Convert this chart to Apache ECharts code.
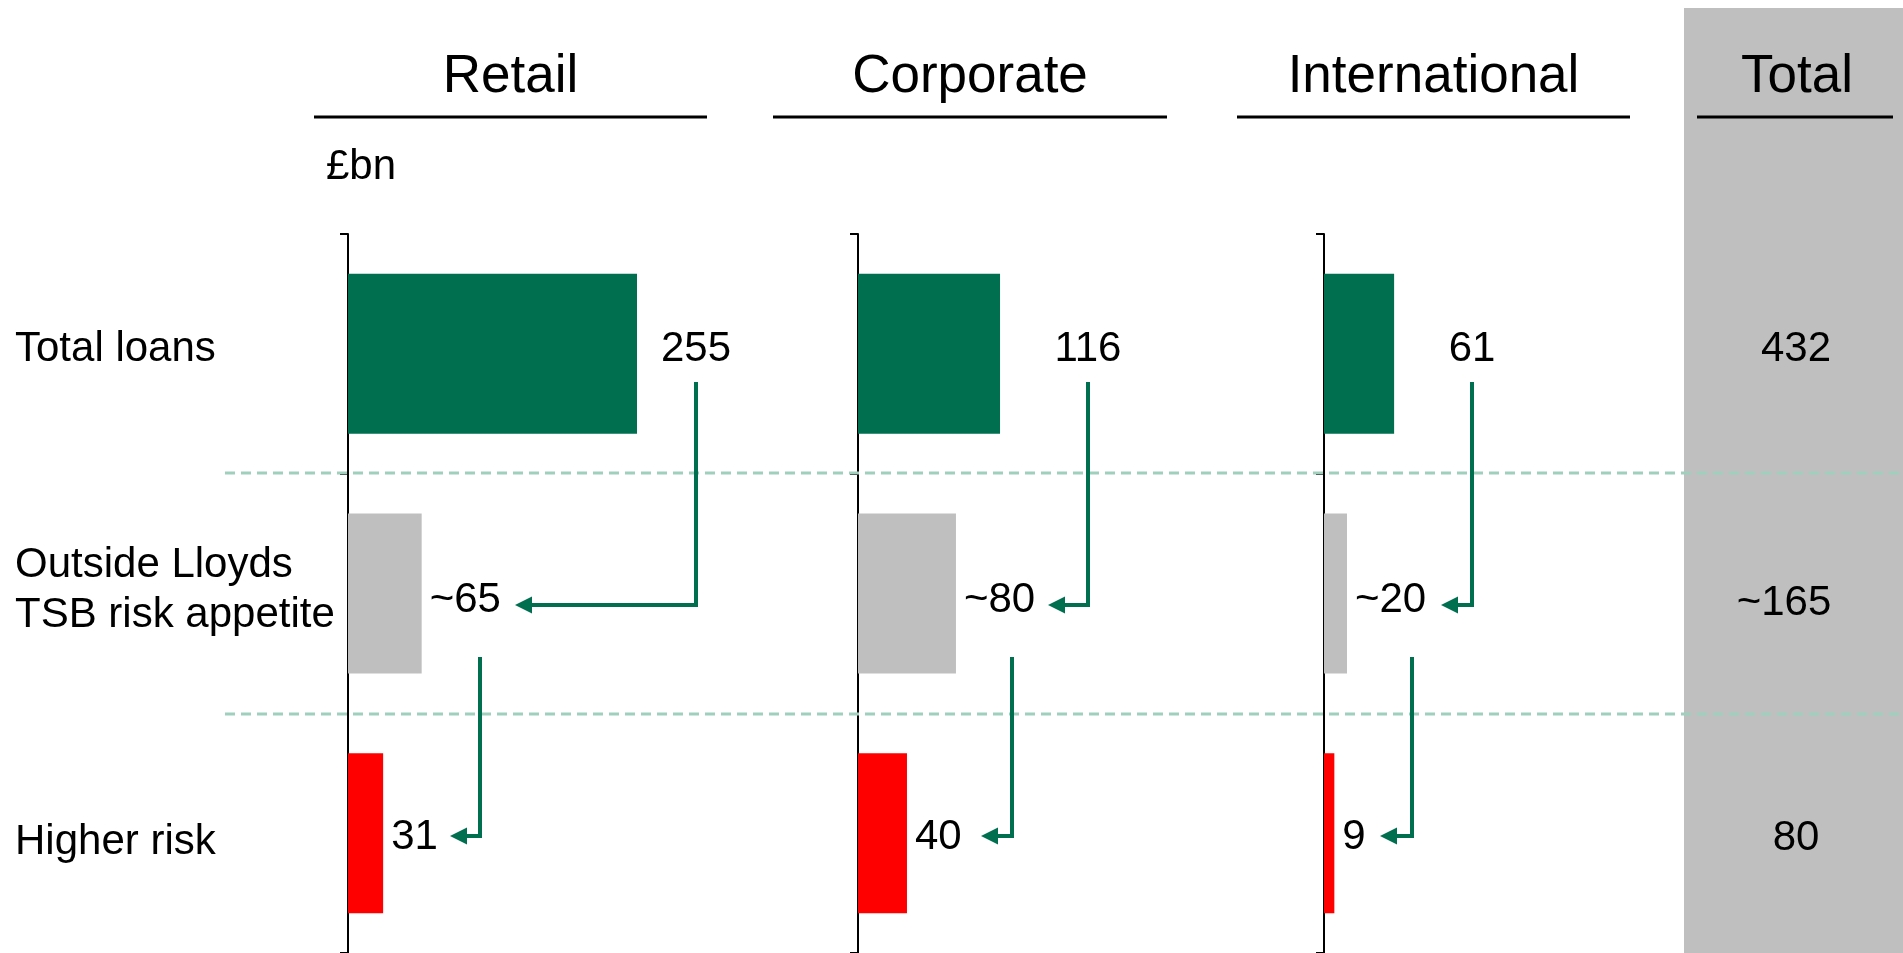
<!DOCTYPE html>
<html>
<head>
<meta charset="utf-8">
<title>Loans by division</title>
<script src="https://cdn.jsdelivr.net/npm/echarts@6/dist/echarts.min.js"></script>
<style>
  html, body { margin: 0; padding: 0; background: #fff; }
  #chart { width: 1903px; height: 953px; }
</style>
</head>
<body>
<div id="chart"></div>
<script>
// ---- data (£bn) ----
const categories = ['Total loans', 'Outside Lloyds\nTSB risk appetite', 'Higher risk'];
const divisions = ['Retail', 'Corporate', 'International'];
const retailValues = [255, 65, 31];
const corporateValues = [116, 80, 40];
const internationalValues = [61, 20, 9];
const approximate = [false, true, false];
const totalTitle = 'Total';
const unitLabel = '£bn';

// ---- styling / layout ----
const FONT = "'Liberation Sans', Arial, Helvetica, sans-serif";
const BODY = 42, HEAD = 53;
const GREEN = '#006F4F';
const barColors = [GREEN, '#BFBFBF', '#FF0000'];
const GRID_TOP = 234, GRID_HEIGHT = 720;
const labelNudge = [0, 7, 4];          // vertical nudge of value labels per row

const panels = [
  { name: divisions[0], values: retailValues, left: 348, width: 340, max: 300,
    head: [314, 707], arrow1: [696, 515], arrow2: [480, 450] },
  { name: divisions[1], values: corporateValues, left: 858, width: 300, max: 245,
    head: [773, 1167], arrow1: [1088, 1048], arrow2: [1012, 981] },
  { name: divisions[2], values: internationalValues, left: 1324, width: 300, max: 261,
    head: [1237, 1630], arrow1: [1472, 1441], arrow2: [1412, 1380] }
];
const totals = categories.map((_, k) => panels.reduce((s, p) => s + p.values[k], 0));

const fmt = (v, k) => (approximate[k] ? '~' : '') + v;

const chart = echarts.init(document.getElementById('chart'), null, { renderer: 'canvas' });

const grids = panels.map(p => ({ left: p.left, top: GRID_TOP, width: p.width, height: GRID_HEIGHT }));
const xAxes = panels.map((p, i) => ({ type: 'value', gridIndex: i, min: 0, max: p.max, show: false }));
const yAxes = panels.map((p, i) => ({
  type: 'category', gridIndex: i, data: categories, inverse: true,
  axisLine: { show: true, lineStyle: { color: '#000', width: 2 } },
  axisTick: { show: true, length: 8, lineStyle: { color: '#000', width: 2 } },
  splitLine: { show: false },
  axisLabel: i === 0 ? {
    show: true, interval: 0, margin: 333, align: 'left',
    formatter: (value, idx) => '{r' + idx + '|' + value + '}',
    rich: {
      r0: { fontSize: BODY, lineHeight: 50, color: '#000', fontFamily: FONT, padding: [0, 0, 8, 0] },
      r1: { fontSize: BODY, lineHeight: 50, color: '#000', fontFamily: FONT, padding: [0, 0, 7, 0] },
      r2: { fontSize: BODY, lineHeight: 50, color: '#000', fontFamily: FONT, padding: [18, 0, 0, 0] }
    }
  } : { show: false }
}));

const series = panels.map((p, i) => ({
  type: 'bar', xAxisIndex: i, yAxisIndex: i, barWidth: 160, silent: true,
  data: p.values.map((v, k) => {
    const item = { value: v, itemStyle: { color: barColors[k] } };
    if (k === 0) {
      // the loan total sits above its connector arrow
      item.label = { position: [p.arrow1[0] - p.left, '47%'], align: 'center', verticalAlign: 'middle' };
    } else {
      item.label = { offset: [0, labelNudge[k]] };
    }
    return item;
  }),
  label: {
    show: true, position: 'right', distance: 8, fontSize: BODY, color: '#000', fontFamily: FONT,
    verticalAlign: 'middle',
    formatter: d => fmt(d.value, d.dataIndex)
  }
}));

// ---- decorations ----
const graphics = [];
// shaded total column
graphics.push({ type: 'rect', z: 0, shape: { x: 1684, y: 8, width: 219, height: 945 }, style: { fill: '#BFBFBF' } });

function text(str, x, y, size, align) {
  return { type: 'text', z: 20, x, y, style: {
    text: str, fontSize: size, fontFamily: FONT, fill: '#000',
    align: align || 'center', verticalAlign: 'middle',
    textAlign: align || 'center', textVerticalAlign: 'middle'
  } };
}
function hline(x1, x2, y, width, color, dash) {
  return { type: 'line', z: 15, shape: { x1, y1: y, x2, y2: y },
    style: { stroke: color, lineWidth: width, lineDash: dash || null } };
}

// column headings with rules
panels.forEach(p => {
  graphics.push(text(p.name, (p.head[0] + p.head[1]) / 2, 77, HEAD));
  graphics.push(hline(p.head[0], p.head[1], 117, 3, '#000'));
});
graphics.push(text(totalTitle, 1797, 77, HEAD));
graphics.push(hline(1697, 1893, 117, 3, '#000'));
graphics.push(text(unitLabel, 326, 167, BODY, 'left'));

// row separators
graphics.push(hline(225, 1903, 473, 3, '#9FCFBD', [10, 6]));
graphics.push(hline(225, 1903, 714, 3, '#9FCFBD', [10, 6]));

// connector arrows
function arrow(vx, yTop, yBot, tipX) {
  const head = 17;
  graphics.push({ type: 'polyline', z: 18, shape: { points: [[vx, yTop], [vx, yBot], [tipX + head - 2, yBot]] },
    style: { stroke: GREEN, lineWidth: 4, fill: null } });
  graphics.push({ type: 'polygon', z: 18, shape: { points: [[tipX, yBot], [tipX + head, yBot - 8.5], [tipX + head, yBot + 8.5]] },
    style: { fill: GREEN } });
}
panels.forEach(p => {
  arrow(p.arrow1[0], 382, 605, p.arrow1[1]);
  arrow(p.arrow2[0], 657, 836, p.arrow2[1]);
});

// group totals
const rowY = [349, 603, 838];
totals.forEach((t, k) => {
  graphics.push(text(fmt(t, k), 1796 - (approximate[k] ? 12 : 0), rowY[k], BODY));
});

chart.setOption({
  animation: false,
  backgroundColor: '#fff',
  textStyle: { fontFamily: FONT },
  grid: grids,
  xAxis: xAxes,
  yAxis: yAxes,
  series: series,
  graphic: { elements: graphics }
});
</script>
</body>
</html>
